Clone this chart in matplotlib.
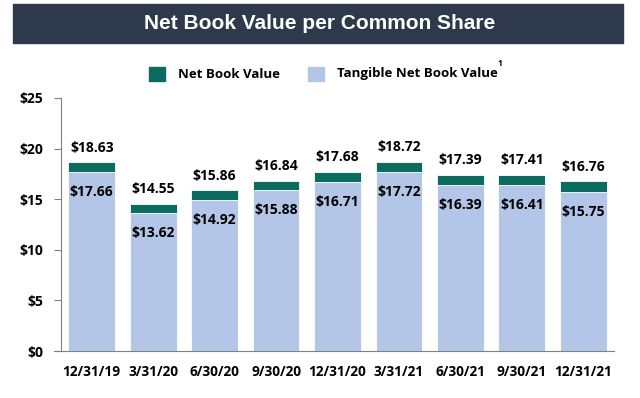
import matplotlib.pyplot as plt
import numpy as np

plt.rcParams['font.family'] = ['Open Sans', 'DejaVu Sans']

dates = ['12/31/19', '3/31/20', '6/30/20', '9/30/20', '12/31/20',
         '3/31/21', '6/30/21', '9/30/21', '12/31/21']
net_bv = [18.63, 14.55, 15.86, 16.84, 17.68, 18.72, 17.39, 17.41, 16.76]
tangible_bv = [17.66, 13.62, 14.92, 15.88, 16.71, 17.72, 16.39, 16.41, 15.75]

teal = '#0b6b5f'
lav = '#b4c6e7'

fig = plt.figure(figsize=(6.4, 3.98), dpi=100)

# title banner
fig.patches.append(plt.Rectangle((13 / 640, 1 - 43 / 398), 610 / 640, 39 / 398,
                                 transform=fig.transFigure, color='#2e3a4b', zorder=0))
fig.text(0.5, 1 - 23.5 / 398, 'Net Book Value per Common Share', color='white',
         fontsize=15, fontweight='bold', ha='center', va='center',
         family=['Liberation Sans', 'DejaVu Sans'])

ax = fig.add_axes([61 / 640, 1 - 351 / 398, 553 / 640, 253 / 398])
x = np.arange(len(dates))
diff = [n - t for n, t in zip(net_bv, tangible_bv)]
ax.bar(x, tangible_bv, width=0.76, color=lav, edgecolor='white', linewidth=0.6)
ax.bar(x, diff, bottom=tangible_bv, width=0.76, color=teal, edgecolor='white', linewidth=0.6)

for xi, n, t in zip(x, net_bv, tangible_bv):
    ax.annotate('$%.2f' % n, (xi, n), xytext=(0, 10.5), textcoords='offset points',
                ha='center', va='center', fontsize=10, fontweight='bold')
    ax.annotate('$%.2f' % t, (xi, t), xytext=(0, -14.5), textcoords='offset points',
                ha='center', va='center', fontsize=10, fontweight='bold')

ax.set_xlim(-0.5, len(dates) - 0.5)
ax.set_ylim(0, 25)
ax.set_yticks([0, 5, 10, 15, 20, 25])
ax.set_yticklabels(['$%d' % v for v in [0, 5, 10, 15, 20, 25]], fontsize=10, fontweight='bold')
ax.set_xticks(x)
ax.set_xticklabels(dates, fontsize=9.8, fontweight='bold')
ax.tick_params(axis='x', length=0, pad=10)
ax.tick_params(axis='y', length=5, color='#808080', pad=8)
for s in ['top', 'right']:
    ax.spines[s].set_visible(False)
ax.spines['left'].set_color('#808080')
ax.spines['bottom'].set_color('#808080')
ax.spines['bottom'].set_bounds(-0.62, len(dates) - 0.5)
ax.spines['bottom'].set_clip_on(False)

# legend
fig.patches.append(plt.Rectangle((149 / 640, 1 - 81 / 398), 16 / 640, 14 / 398,
                                 transform=fig.transFigure, color=teal))
fig.text(178 / 640, 1 - 74 / 398, 'Net Book Value', fontsize=9.5, fontweight='bold', va='center')
fig.patches.append(plt.Rectangle((308 / 640, 1 - 81 / 398), 16 / 640, 14 / 398,
                                 transform=fig.transFigure, color=lav))
fig.text(337 / 640, 1 - 74 / 398, 'Tangible Net Book Value', fontsize=9.5, fontweight='bold', va='center')
fig.text(497 / 640, 1 - 64 / 398, '1', fontsize=6, fontweight='bold', va='center')

plt.savefig('out.png', dpi=100)
